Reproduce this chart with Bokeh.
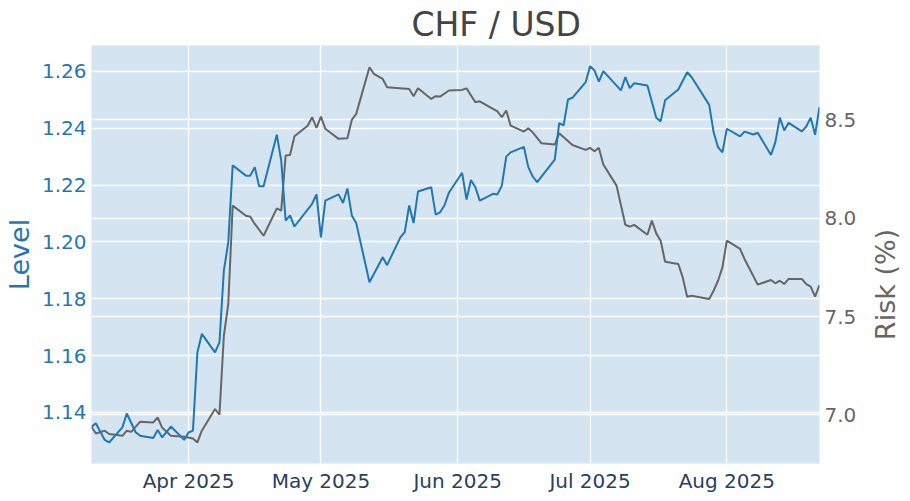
import math
import pandas as pd
from bokeh.plotting import figure
from bokeh.models import (Range1d, LinearAxis, FixedTicker, NumeralTickFormatter,
                          DatetimeTickFormatter, Grid, ColumnDataSource, Label)
from bokeh.embed import file_html
from bokeh.resources import INLINE

# ---------------- data ----------------
level_dates = [
    "2025-03-10", "2025-03-11", "2025-03-13", "2025-03-14", "2025-03-17", "2025-03-18",
    "2025-03-20", "2025-03-21", "2025-03-24", "2025-03-25", "2025-03-26", "2025-03-28",
    "2025-03-31", "2025-04-01", "2025-04-02", "2025-04-03", "2025-04-04", "2025-04-07",
    "2025-04-08", "2025-04-09", "2025-04-10", "2025-04-11", "2025-04-14", "2025-04-15",
    "2025-04-16", "2025-04-17", "2025-04-18", "2025-04-21", "2025-04-22", "2025-04-23",
    "2025-04-24", "2025-04-25", "2025-04-29", "2025-04-30", "2025-05-01", "2025-05-02",
    "2025-05-05", "2025-05-06", "2025-05-07", "2025-05-08", "2025-05-09", "2025-05-12",
    "2025-05-15", "2025-05-16", "2025-05-19", "2025-05-20", "2025-05-21", "2025-05-22",
    "2025-05-23", "2025-05-26", "2025-05-27", "2025-05-28", "2025-05-29", "2025-05-30",
    "2025-06-02", "2025-06-03", "2025-06-04", "2025-06-05", "2025-06-06", "2025-06-09",
    "2025-06-10", "2025-06-11", "2025-06-12", "2025-06-13", "2025-06-16", "2025-06-17",
    "2025-06-18", "2025-06-19", "2025-06-23", "2025-06-24", "2025-06-25", "2025-06-26",
    "2025-06-27", "2025-06-30", "2025-07-01", "2025-07-02", "2025-07-03", "2025-07-04",
    "2025-07-08", "2025-07-09", "2025-07-10", "2025-07-11", "2025-07-14", "2025-07-16",
    "2025-07-17", "2025-07-18", "2025-07-21", "2025-07-23", "2025-07-24", "2025-07-28",
    "2025-07-29", "2025-07-30", "2025-07-31", "2025-08-01", "2025-08-04", "2025-08-05",
    "2025-08-07", "2025-08-08", "2025-08-11", "2025-08-12", "2025-08-13", "2025-08-14",
    "2025-08-15", "2025-08-18", "2025-08-19", "2025-08-20", "2025-08-21", "2025-08-22",
]
level_values = [
    1.1350, 1.1361, 1.1303, 1.1294, 1.1347, 1.1396,
    1.1330, 1.1318, 1.1310, 1.1338, 1.1312, 1.1350,
    1.1303, 1.1329, 1.1336, 1.1611, 1.1676, 1.1611,
    1.1646, 1.1899, 1.1999, 1.2269, 1.2233, 1.2233,
    1.2263, 1.2196, 1.2196, 1.2377, 1.2286, 1.2075,
    1.2093, 1.2054, 1.2134, 1.2167, 1.2016, 1.2145,
    1.2167, 1.2137, 1.2188, 1.2093, 1.2066, 1.1858,
    1.1946, 1.1918, 1.2016, 1.2034, 1.2128, 1.2066,
    1.2177, 1.2192, 1.2096, 1.2104, 1.2128, 1.2173,
    1.2243, 1.2149, 1.2218, 1.2192, 1.2145, 1.2169,
    1.2167, 1.2198, 1.2300, 1.2315, 1.2334, 1.2263,
    1.2230, 1.2210, 1.2289, 1.2418, 1.2410, 1.2501,
    1.2507, 1.2562, 1.2618, 1.2603, 1.2564, 1.2601,
    1.2533, 1.2580, 1.2541, 1.2558, 1.2550, 1.2437,
    1.2424, 1.2498, 1.2536, 1.2597, 1.2580, 1.2482,
    1.2386, 1.2333, 1.2315, 1.2398, 1.2371, 1.2388,
    1.2378, 1.2384, 1.2306, 1.2351, 1.2437, 1.2392,
    1.2419, 1.2389, 1.2406, 1.2437, 1.2377, 1.2474,
]

risk_dates = [
    "2025-03-10", "2025-03-11", "2025-03-13", "2025-03-14", "2025-03-17", "2025-03-18",
    "2025-03-19", "2025-03-21", "2025-03-24", "2025-03-25", "2025-03-26", "2025-03-28",
    "2025-03-31", "2025-04-02", "2025-04-03", "2025-04-04", "2025-04-07", "2025-04-08",
    "2025-04-09", "2025-04-10", "2025-04-11", "2025-04-14", "2025-04-15", "2025-04-16",
    "2025-04-18", "2025-04-21", "2025-04-22", "2025-04-23", "2025-04-24", "2025-04-25",
    "2025-04-28", "2025-04-29", "2025-04-30", "2025-05-01", "2025-05-02", "2025-05-05",
    "2025-05-07", "2025-05-08", "2025-05-09", "2025-05-12", "2025-05-13", "2025-05-15",
    "2025-05-16", "2025-05-21", "2025-05-22", "2025-05-23", "2025-05-26", "2025-05-27",
    "2025-05-28", "2025-05-30", "2025-06-02", "2025-06-03", "2025-06-05", "2025-06-06",
    "2025-06-10", "2025-06-11", "2025-06-12", "2025-06-13", "2025-06-16", "2025-06-17",
    "2025-06-18", "2025-06-20", "2025-06-23", "2025-06-24", "2025-06-27", "2025-06-30",
    "2025-07-01", "2025-07-02", "2025-07-03", "2025-07-04", "2025-07-07", "2025-07-09",
    "2025-07-10", "2025-07-11", "2025-07-14", "2025-07-15", "2025-07-16", "2025-07-17",
    "2025-07-18", "2025-07-21", "2025-07-22", "2025-07-23", "2025-07-24", "2025-07-28",
    "2025-07-29", "2025-07-30", "2025-07-31", "2025-08-01", "2025-08-04", "2025-08-05",
    "2025-08-08", "2025-08-11", "2025-08-12", "2025-08-13", "2025-08-14", "2025-08-15",
    "2025-08-18", "2025-08-19", "2025-08-20", "2025-08-21", "2025-08-22",
]
risk_values = [
    6.939, 6.905, 6.919, 6.902, 6.893, 6.919,
    6.913, 6.964, 6.961, 6.986, 6.935, 6.893,
    6.888, 6.879, 6.859, 6.919, 7.029, 7.000,
    7.402, 7.564, 8.064, 8.013, 8.008, 7.971,
    7.911, 8.050, 8.039, 8.319, 8.322, 8.417,
    8.471, 8.514, 8.460, 8.517, 8.455, 8.404,
    8.407, 8.501, 8.531, 8.768, 8.735, 8.709,
    8.667, 8.658, 8.621, 8.661, 8.607, 8.621,
    8.619, 8.650, 8.653, 8.661, 8.590, 8.595,
    8.544, 8.514, 8.548, 8.471, 8.441, 8.458,
    8.437, 8.381, 8.375, 8.432, 8.373, 8.348,
    8.358, 8.341, 8.358, 8.273, 8.166, 7.967,
    7.957, 7.966, 7.916, 7.988, 7.923, 7.886,
    7.779, 7.767, 7.699, 7.601, 7.606, 7.589,
    7.631, 7.682, 7.750, 7.886, 7.844, 7.793,
    7.662, 7.686, 7.669, 7.682, 7.665, 7.691,
    7.691, 7.665, 7.652, 7.601, 7.660,
]

month_ticks = ["2025-04-01", "2025-05-01", "2025-06-01", "2025-07-01", "2025-08-01"]
level_ticks = [1.14, 1.16, 1.18, 1.20, 1.22, 1.24, 1.26]
risk_ticks = [7.0, 7.5, 8.0, 8.5]

title_text = "CHF / USD"
level_label = "Level"
risk_label = "Risk (%)"

# ---------------- styling ----------------
BLUE = "#1f77b4"
GRAY = "#666666"
FONT = "DejaVu Sans"
FW, FH = 728, 418

lvl_src = ColumnDataSource(dict(x=pd.to_datetime(level_dates), y=level_values))
rsk_src = ColumnDataSource(dict(x=pd.to_datetime(risk_dates), y=risk_values))

p = figure(
    frame_width=FW, frame_height=FH,
    x_axis_type="datetime",
    x_range=Range1d(pd.Timestamp("2025-03-10"), pd.Timestamp("2025-08-22")),
    y_range=Range1d(1.1220, 1.2691),
    output_backend="svg", toolbar_location=None,
    min_border_left=85, min_border_right=86, min_border_top=42, min_border_bottom=24,
    background_fill_color="#d4e4f0", border_fill_color="white",
    outline_line_color=None,
)
p.extra_y_ranges = {"risk": Range1d(6.752, 8.879)}

# title
p.title.text = title_text
p.title.align = "left"
p.title.offset = 320
p.title.text_font = FONT
p.title.text_font_size = "33px"
p.title.text_font_style = "normal"
p.title.text_color = "#444444"
p.title.standoff = 4

# x axis
xt = FixedTicker(ticks=[pd.Timestamp(t).value / 1e6 for t in month_ticks])
xa = p.xaxis[0]
xa.ticker = xt
fmt = "%b %Y"
xa.formatter = DatetimeTickFormatter(
    milliseconds=fmt, seconds=fmt, minsec=fmt, minutes=fmt, hourmin=fmt, hours=fmt,
    days=fmt, months=fmt, years=fmt)
xa.major_label_text_font = FONT
xa.major_label_text_font_size = "20px"
xa.major_label_text_color = "#2a3f5f"
xa.major_label_standoff = 5

# left axis
lt = FixedTicker(ticks=level_ticks)
ya = p.yaxis[0]
ya.ticker = lt
ya.formatter = NumeralTickFormatter(format="0.00")
ya.axis_label = level_label
ya.axis_label_text_font = FONT
ya.axis_label_text_font_size = "27px"
ya.axis_label_text_font_style = "normal"
ya.axis_label_text_color = BLUE
ya.axis_label_standoff = 4
ya.major_label_text_font = FONT
ya.major_label_text_font_size = "20px"
ya.major_label_text_color = BLUE
ya.major_label_standoff = 5

# right axis
rt = FixedTicker(ticks=risk_ticks)
ra = LinearAxis(y_range_name="risk", ticker=rt, formatter=NumeralTickFormatter(format="0.0"))
ra.major_label_text_font = FONT
ra.major_label_text_font_size = "20px"
ra.major_label_text_color = GRAY
ra.major_label_standoff = 5
p.add_layout(ra, "right")

for ax in (xa, ya, ra):
    ax.axis_line_color = None
    ax.major_tick_line_color = None
    ax.minor_tick_line_color = None
    ax.major_tick_out = 0
    ax.major_tick_in = 0
    ax.minor_tick_out = 0
    ax.minor_tick_in = 0

# right axis title (reads bottom-to-top, as in the reference), placed in the right panel
p.add_layout(Label(
    x=26, y=FH / 2 - 30, x_units="screen", y_units="screen",
    text=risk_label, angle=math.pi / 2, text_align="center", text_baseline="middle",
    text_font=FONT, text_font_size="27px", text_color=GRAY), "right")

# grids
p.xgrid.ticker = xt
p.ygrid.ticker = lt
for g in (p.xgrid[0], p.ygrid[0]):
    g.grid_line_color = "white"
    g.grid_line_width = 1.3
p.add_layout(Grid(dimension=1, ticker=rt, y_range_name="risk",
                  grid_line_color="white", grid_line_width=1.3))

# lines
p.line("x", "y", source=rsk_src, y_range_name="risk", line_color=GRAY, line_width=2)
p.line("x", "y", source=lvl_src, line_color=BLUE, line_width=2)

open("out.html", "w").write(file_html(p, INLINE))
